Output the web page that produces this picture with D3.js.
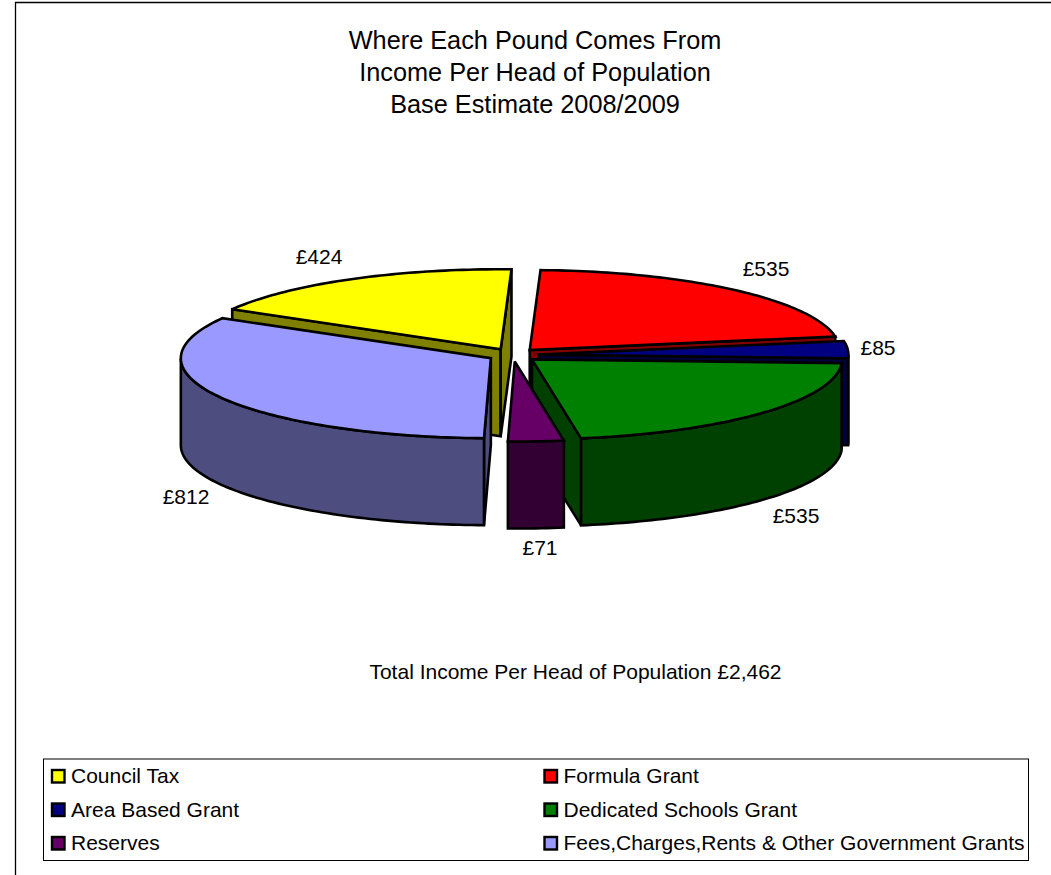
<!DOCTYPE html>
<html>
<head>
<meta charset="utf-8">
<script src="https://cdn.jsdelivr.net/npm/d3@7"></script>
<style>
  html, body { margin: 0; padding: 0; background: #fff; }
  svg { display: block; }
  text { font-family: "Liberation Sans", Arial, sans-serif; fill: #000; }
</style>
</head>
<body>
<svg id="chart" width="1051" height="875"></svg>
<script>
// Income sources per head of population
const categories = ["Council Tax", "Formula Grant", "Area Based Grant", "Dedicated Schools Grant", "Reserves", "Fees,Charges,Rents & Other Government Grants"];
const values = [424, 535, 85, 535, 71, 812];
const valueLabels = ["£424", "£535", "£85", "£535", "£71", "£812"];
const topColours = ["#ffff00", "#ff0000", "#000080", "#008000", "#660066", "#9999ff"];
const sideColours = ["#808000", "#800000", "#000040", "#004000", "#330033", "#4d4d80"];
const titleLines = ["Where Each Pound Comes From", "Income Per Head of Population", "Base Estimate 2008/2009"];
const footnote = "Total Income Per Head of Population £2,462";
// Painter's order for the exploded slices, back to front
const drawOrder = [0, 1, 2, 3, 5, 4];

const svg = d3.select("#chart");

// Chart frame
svg.append("path").attr("d", "M15.5,875V2.5H1051").attr("fill", "none").attr("stroke", "#000").attr("stroke-width", 1.3);

// Title and footnote
svg.append("g").selectAll("text").data(titleLines).join("text")
  .attr("x", 535).attr("y", (d, i) => 49 + i * 32)
  .attr("text-anchor", "middle").attr("font-size", 25.3).text(d => d);
svg.append("text").attr("x", 575.5).attr("y", 679).attr("text-anchor", "middle").attr("font-size", 21).text(footnote);

// Projection of the tilted pie: flat circle of unit radius to screen ellipse
const cx = 513, cy = 355, rx = 310, ry = 80, depth = 87, explode = 0.082;
const px = d3.scaleLinear().domain([-1, 1]).range([cx - rx, cx + rx]);
const py = d3.scaleLinear().domain([-1, 1]).range([cy - ry, cy + ry]);

const pie = d3.pie().sort(null).value(d => d).startAngle(-60 * Math.PI / 180).endAngle(300 * Math.PI / 180);
const arcs = pie(values).map((a, i) => {
  // d3 angles run clockwise from 12 o'clock; shift so 0 points east
  const s = a.startAngle - Math.PI / 2, e = a.endAngle - Math.PI / 2, m = (s + e) / 2;
  return { i, s, e, ox: explode * Math.cos(m), oy: explode * Math.sin(m) };
});

function pt(a, t, r, dz) {
  const ux = a.ox + r * Math.cos(t), uy = a.oy + r * Math.sin(t);
  return [px(ux), py(uy) + (dz || 0)];
}
function traceArc(p, a, t0, t1, dz) {
  const n = Math.max(2, Math.ceil(Math.abs(t1 - t0) / 0.02));
  d3.range(n + 1).forEach(k => {
    const [x, y] = pt(a, t0 + (t1 - t0) * k / n, 1, dz);
    p.lineTo(x, y);
  });
}
function topPath(a) {
  const p = d3.path();
  p.moveTo(...pt(a, a.s, 0));
  traceArc(p, a, a.s, a.e, 0);
  p.closePath();
  return p.toString();
}
function cutFace(a, t) {
  const p = d3.path();
  const apex = pt(a, t, 0), rimPt = pt(a, t, 1);
  p.moveTo(...apex);
  p.lineTo(...rimPt);
  p.lineTo(rimPt[0], rimPt[1] + depth);
  p.lineTo(apex[0], apex[1] + depth);
  p.closePath();
  return p.toString();
}
function rimPath(a, t0, t1) {
  const p = d3.path();
  p.moveTo(...pt(a, t0, 1));
  traceArc(p, a, t0, t1, 0);
  traceArc(p, a, t1, t0, depth);
  p.closePath();
  return p.toString();
}

const pieLayer = svg.append("g").attr("stroke", "#000").attr("stroke-width", 2.6).attr("stroke-linejoin", "miter").attr("stroke-miterlimit", 3);
drawOrder.forEach(i => {
  const a = arcs[i], g = pieLayer.append("g").attr("fill", sideColours[i]);
  // Only faces turned towards the viewer are drawn
  if (Math.cos(a.s) < 0) g.append("path").attr("d", cutFace(a, a.s));
  if (Math.cos(a.e) > 0) g.append("path").attr("d", cutFace(a, a.e));
  // Outer wall: the part of the rim on the near half of the ellipse
  [[0, Math.PI], [2 * Math.PI, 3 * Math.PI]].forEach(([lo, hi]) => {
    const t0 = Math.max(a.s, lo), t1 = Math.min(a.e, hi);
    if (t1 > t0) g.append("path").attr("d", rimPath(a, t0, t1));
  });
  g.append("path").attr("d", topPath(a)).attr("fill", topColours[i]);
});

// Value labels beside each slice
const labelAnchors = [[319, 264], [766, 276], [878, 355], [796, 523], [540, 555], [186, 504]];
svg.append("g").selectAll("text").data(valueLabels).join("text")
  .attr("x", (d, i) => labelAnchors[i][0]).attr("y", (d, i) => labelAnchors[i][1])
  .attr("text-anchor", "middle").attr("font-size", 21).text(d => d);

// Legend
const legend = svg.append("g");
legend.append("rect").attr("x", 43.5).attr("y", 759).attr("width", 985).attr("height", 101.5)
  .attr("fill", "#fff").attr("stroke", "#000");
const legendX = d3.scalePoint().domain([0, 1]).range([52, 544.5]);
const legendY = d3.scalePoint().domain([0, 1, 2]).range([776, 843]);
const entries = legend.selectAll("g").data(categories).join("g")
  .attr("transform", (d, i) => `translate(${legendX(i % 2)},${legendY(Math.floor(i / 2))})`);
entries.append("rect").attr("x", 0).attr("y", -6).attr("width", 12.5).attr("height", 12.5)
  .attr("fill", (d, i) => topColours[i]).attr("stroke", "#000").attr("stroke-width", 2.4);
entries.append("text").attr("x", 19).attr("y", 7).attr("font-size", 21).text(d => d);
</script>
</body>
</html>
